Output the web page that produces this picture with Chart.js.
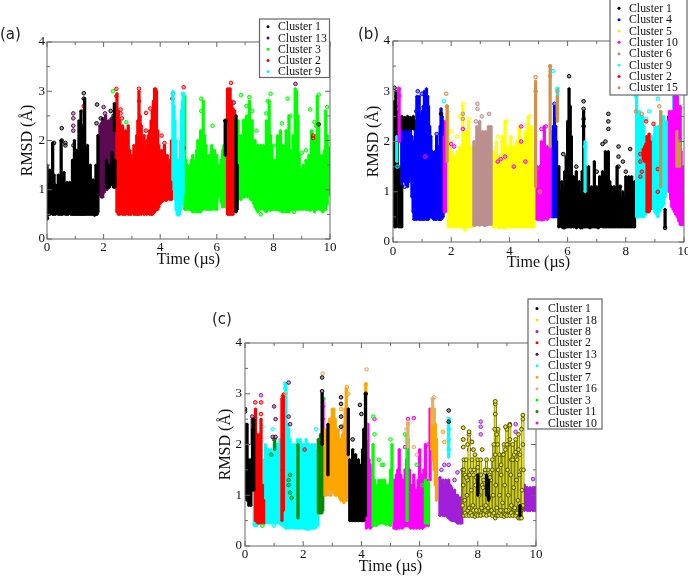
<!DOCTYPE html>
<html>
<head>
<meta charset="utf-8">
<script src="https://cdn.jsdelivr.net/npm/chart.js@4"></script>
<style>
html, body { margin: 0; padding: 0; background: #fff; overflow: hidden; width: 688px; height: 576px; }
canvas { position: absolute; }
</style>
</head>
<body>
<canvas id="panel_a" style="left:0;top:0"></canvas>
<canvas id="panel_b" style="left:345px;top:0"></canvas>
<canvas id="panel_c" style="left:205px;top:290px"></canvas>
<script>
var xTicks = [0, 2, 4, 6, 8, 10];
var yTicks = [0, 1, 2, 3, 4];

// every spike is [time, lowest rmsd, highest rmsd]
// panel (a)
var a1 = [[0,.42,1.5],[.05,.5,1.1],[.1,.5,1.4],[.15,.52,1],[.2,.5,1.95],[.25,.5,1.3],[.3,.5,1.1],[.35,.52,1.05],[.4,.5,1.3],[.45,.5,1.1],[.5,.5,2],[.55,.5,1.2],[.6,.52,1.35],[.65,.5,1.1],[.7,.5,1.15],[.75,.5,1],[.8,.52,1.15],[.85,.5,1.1],[.9,.5,1.6],[.93,.5,1.15],[.97,.5,2],[1.01,.5,1.3],[1.05,.5,1.8],[1.09,.5,1.2],[1.13,.5,2.4],[1.17,.5,1.5],[1.2,.5,2.6],[1.24,.5,1.3],[1.27,.5,2.3],[1.3,.5,1.6],[1.33,.5,2.85],[1.38,.5,1.2],[1.43,.5,1.9],[1.48,.5,1.15],[1.53,.5,1.5],[1.58,.5,1.05],[1.63,.5,1.2],[1.68,.48,1.1],[1.73,.5,1.5],[1.77,.5,1.3],[1.8,.55,2.1],
	[2.1,1.05,1.6],[2.15,1.05,1.3],[2.2,1.05,1.5],[2.25,1.1,1.3],[2.3,1.1,1.75],[2.35,1.05,1.4],[2.4,1.05,1.6],[2.38,2.2,2.75],[6.3,1.7,2.4],[6.68,.55,2.5],[6.72,.6,1.5]];
var a13 = [[1.87,.9,2.3],[1.92,.85,2.35],[1.97,.85,2.45],[2.02,.95,2.4],[2.07,1,2.5],[2.12,1,2.35],[2.17,1.05,2.4],[2.22,1.1,2.4],[2.27,1.2,2.45],[2.32,1.2,2.4],[2.37,1.3,2.45],[2.43,1.1,2.6]];
var a3 = [[4.87,.6,2.9],[4.91,.6,1.6],[4.95,.62,1.5],[5,.6,1.4],[5.05,.6,1.5],[5.1,.58,1.6],[5.15,.55,1.7],[5.2,.58,1.5],[5.25,.55,1.6],[5.29,.58,1.8],[5.33,.55,2],[5.38,.55,1.7],[5.43,.55,2.2],[5.47,.6,2],[5.52,.6,2.8],[5.57,.62,2.1],[5.62,.6,1.9],[5.67,.6,1.6],[5.72,.6,1.7],[5.77,.6,1.6],[5.82,.6,1.9],[5.87,.65,1.6],[5.92,.6,1.8],[5.96,.65,1.6],[6,.6,1.7],[6.05,.85,1.5],[6.1,1,1.5],[6.15,.75,1.6],[6.2,.65,1.8],[6.25,.7,1.9],[6.3,.65,2.3],
	[6.75,.8,2.4],[6.8,.85,1.9],[6.85,.8,2.1],[6.9,.85,1.8],[6.95,.85,2.4],[7,.85,2],[7.05,.9,2.5],[7.1,.85,2.1],[7.15,.85,2.8],[7.2,.8,2.2],[7.25,.8,2.4],[7.3,.72,1.9],[7.35,.65,2],[7.4,.6,1.7],[7.45,.55,1.9],[7.5,.6,1.6],[7.55,.6,1.9],[7.6,.62,1.6],[7.65,.6,1.9],[7.7,.58,1.7],[7.75,.55,2.4],[7.8,.6,2],[7.85,.6,2.8],[7.9,.58,2.1],[7.95,.6,1.9],[8,.6,1.5],[8.05,.6,1.6],[8.1,.6,1.5],[8.15,.6,2.1],[8.2,.58,1.7],[8.25,.6,2.2],[8.3,.55,1.6],[8.35,.55,1.9],[8.4,.58,1.6],[8.45,.55,2.2],[8.5,.55,1.9],[8.55,.55,2.5],[8.6,.6,1.8],[8.65,.6,1.7],[8.7,.62,2.1],[8.77,.6,3.05],[8.82,.6,3],[8.87,.6,2.5],[8.91,.65,1.7],[8.95,.6,1.4],[9,.62,1.35],[9.05,.6,1.5],[9.1,.62,1.4],[9.15,.6,1.6],[9.2,.6,1.5],[9.25,.6,1.7],[9.3,.58,1.6],[9.35,.6,2.2],[9.4,.62,1.7],[9.45,.55,2],[9.5,.6,2.1],[9.55,.6,2.9],[9.6,.62,2.3],[9.65,.6,1.7],[9.7,.58,1.5],[9.75,.55,1.7],[9.8,.6,1.8],[9.85,.6,2.6],[9.9,.7,2.1],[9.95,.9,1.7],[9.99,.9,1.85]];
var a2 = [[2.47,.55,2.95],[2.52,.5,2.6],[2.57,.5,2.4],[2.62,.52,2],[2.67,.5,2.3],[2.72,.5,2],[2.77,.5,2.2],[2.82,.52,2],[2.87,.5,2.3],[2.92,.5,1.8],[2.97,.5,1.7],[3.02,.52,1.6],[3.07,.5,1.9],[3.12,.5,1.7],[3.17,.5,2.1],[3.21,.5,2.4],[3.25,.5,3],[3.29,.52,2.5],[3.33,.5,2.3],[3.38,.52,1.9],[3.43,.5,2.1],[3.48,.52,1.8],[3.53,.5,2],[3.58,.52,2.1],[3.63,.5,2.2],[3.68,.5,2.4],[3.72,.5,2.6],[3.76,.52,2.8],[3.8,.55,3.05],[3.84,.58,3.05],[3.87,.6,3],[3.91,.6,2.2],[3.95,.65,1.9],[4,.72,1.7],[4.05,.75,1.8],[4.1,.78,1.7],[4.15,.8,1.9],[4.2,.78,1.6],[4.25,.8,1.7],[4.3,.82,1.5],[4.35,.8,1.6],[4.4,.8,2],
	[6.38,.5,3.05],[6.43,.5,3.05],[6.47,.5,3.05],[6.52,.5,2.8],[6.57,.5,2.65],[6.63,.55,2.6]];
var a9 = [[4.45,1.2,3],[4.49,1,2.7],[4.52,.8,2.4],[4.56,.6,2],[4.6,.5,1.6],[4.64,.48,1.55],[4.68,.5,1.6],[4.72,.6,2],[4.75,.7,2.6],[4.78,.8,2.8],[4.81,.9,2.95]];
var a1Pts = [[.25,1.95],[.52,2.25],[.52,2],[.65,1.9],[.65,1.95],[1.3,2.96],[1.3,2.85],[1.77,2.73],[2.25,2.6],[2.35,2.5],[0,.42],[1.75,2.35],[1.9,2.45],[6.3,2.4],[9.6,2.33]];
var a13Pts = [[.93,2.55],[.93,2.45],[.93,2.3],[.93,2.2],[.93,1.9],[2,2.68],[2.05,2.55],[1.3,2],[8.78,3.15],[4.43,2.85],[6.6,2.77]];
var a3Pts = [[2.33,3],[2.8,2.37],[2.45,2.65],[6.85,2.92],[7.05,2.7],[7.15,2.88],[7.8,2.8],[7.9,2.95],[8.5,2.85],[8.6,2.5],[9.3,2.63],[9.45,2.38],[9.6,2.93],[9.9,2.68],[5.45,2.85],[5.45,2.6],[5.85,2.3],[9,1.75],[7.3,.95],[7.55,.5],[8.72,.55],[6.95,2.4],[7.25,2.6],[7,2.3],[7.4,2.2],[7.75,2.55],[8.1,1.9],[8.3,2.35],[9.15,1.8],[9.5,2.3]];
var a2Pts = [[1.3,2.7],[1.3,2.6],[2.45,3.05],[2.45,2.9],[2.6,2.63],[2.6,2.55],[2.65,2.45],[3.25,3.05],[3.25,2.8],[3.5,2.56],[3.65,2.65],[4.05,2.1],[4.15,1.95],[4.45,2.95],[4.83,3.08],[4.83,1.85],[6.5,3.17],[9.4,2.1],[9.4,2.05],[3.5,2.2]];
var a9Pts = [[4.45,2.95],[4.8,2.95]];

// panel (b)
var b1 = [[.05,.3,2.8],[.1,.3,3],[.15,1,2.6],[.2,.3,1.5],[.25,.3,1.1],[.3,.3,1.1],[.3,2.25,2.5],[.35,2.25,2.45],[.4,2.25,2.48],[.45,2.27,2.45],[.5,2.25,2.5],[.55,2.25,2.45],[.6,2.25,2.48],[.65,2.27,2.45],[.7,2.25,2.5],
	[5.7,.3,1.5],[5.75,.32,1],[5.8,.3,1.2],[5.85,.28,.95],[5.9,.28,1.4],[5.95,.3,1.7],[6,.3,2.4],[6.05,.3,3.05],[6.09,.3,2.7],[6.13,.3,2.1],[6.2,.3,1.3],[6.25,.32,1],[6.3,.28,1.4],[6.35,.3,1],[6.4,.3,1.2],[6.45,.28,.95],[6.5,.28,1.4],[6.55,1,2.6],[6.58,.3,1.2],[6.62,.3,1.5],[6.67,.3,1],[6.72,.3,1.5],[6.77,.28,.95],[6.82,.3,1.1],[6.87,.3,1],[6.92,.3,1.6],[6.96,.3,1],[7,.3,1.1],[7.05,.28,.95],[7.1,.3,1.3],[7.15,.32,1],[7.2,.3,1.4],[7.25,.3,1.1],[7.3,.3,1.8],[7.35,.3,1.5],[7.4,.3,1.8],[7.45,.3,1.2],[7.5,.3,1.1],[7.55,.3,.95],[7.6,.3,1.1],[7.65,.3,1],[7.7,.3,1.5],[7.75,.3,1],[7.8,.3,1.1],[7.85,.3,.9],[7.9,.3,1],[7.95,.3,.9],[8,.3,1.3],[8.05,.3,1.1],[8.1,.3,1.3],[8.15,.3,1.05],[8.2,.3,1.3],[8.25,.3,1],[8.3,.3,1.2],
	[9.35,.3,.65],[9.48,1.9,2.5],[9.55,1.9,2.3]];
var b4 = [[.3,1.1,2.3],[.35,1.25,2.25],[.4,1.2,2.25],[.45,1.15,2.25],[.5,1.1,2.3],[.55,1.2,2.25],[.6,1.3,2.25],[.65,.9,2.1],[.69,.6,2],[.72,.45,1.9],[.77,.45,2.4],[.82,.45,2.9],[.86,.48,2.8],[.9,.45,2.9],[.95,.45,2.5],[1,.45,2.6],[1.04,.45,2.7],[1.08,.45,3],[1.12,.48,3],[1.15,.45,3.05],[1.19,.45,2.9],[1.22,.45,2.7],[1.26,.5,2.3],[1.3,.5,2.1],[1.35,.48,1.8],[1.4,.45,1.7],[1.45,.45,1.8],[1.5,.45,2.1],[1.54,.5,1.8],[1.58,.45,1.9],[1.62,.45,2.3],[1.65,.45,2.65],[1.69,.48,2.5],[1.72,.5,2.4],
	[5.47,.5,2.2],[5.51,.5,2.3],[5.55,.5,2.7],[5.59,.55,2.3],[5.62,.5,2]];
var b5 = [[1.9,.3,2.6],[1.95,.3,2],[2,.3,1.8],[2.05,.32,1.5],[2.1,.3,1.7],[2.15,.3,1.5],[2.2,.3,1.8],[2.25,.3,1.6],[2.3,.3,1.9],[2.35,.32,1.8],[2.4,.3,2.7],[2.45,.25,1.9],[2.5,.3,2.2],[2.55,.3,1.9],[2.6,.3,2.4],[2.65,.3,1.7],[2.7,.3,1.9],
	[3.45,.3,1.8],[3.5,.3,1.6],[3.55,.3,2],[3.6,.3,1.7],[3.65,.28,1.7],[3.7,.3,1.6],[3.75,.3,2.1],[3.8,.28,1.7],[3.85,.28,2.4],[3.9,.3,1.8],[3.95,.3,1.9],[4,.3,1.6],[4.05,.3,2.1],[4.1,.3,1.7],[4.15,.3,1.9],[4.2,.3,1.6],[4.25,.3,2],[4.3,.3,1.7],[4.35,.3,2.3],[4.4,.3,1.7],[4.45,.3,2],[4.5,.3,1.6],[4.55,.3,2.2],[4.6,.3,1.7],[4.65,.3,2.5],[4.7,.3,1.8],[4.75,.3,2.3],[4.8,.3,1.6],[4.85,.3,1.6]];
var b10 = [[.21,2,3.05],[1.76,.6,2.1],[1.8,.6,2.4],[4.95,.45,1.5],[5,.45,1.4],[5.05,.45,1.5],[5.1,.45,2],[5.15,.45,1.7],[5.2,.45,2.3],[5.25,.5,1.8],[5.3,.45,1.9],[5.35,.5,1.7],[5.4,.5,1.9],
	[9.5,1,2.6],[9.54,.85,2.3],[9.58,.7,2.6],[9.63,.65,2.4],[9.67,.6,2.9],[9.72,.55,2.5],[9.77,.5,2.9],[9.82,.42,2.5],[9.87,.35,2.7],[9.9,.35,1.8],[9.93,.35,1.2],[9.96,.35,1.4],[9.99,.35,1.5]];
var b6 = [[2.78,.33,2],[2.83,.33,1.9],[2.88,.35,2.3],[2.93,.35,2.1],[2.98,.33,2.4],[3.03,.35,2],[3.08,.35,2.2],[3.13,.33,2],[3.18,.33,2.2],[3.23,.35,2],[3.28,.35,2.3],[3.33,.35,2],[3.37,.35,2.3]];
var b9 = [[.13,1.6,2.1],[5.65,2.5,3.05],[6.6,1,2],
	[8.37,.5,2.9],[8.42,.5,2.5],[8.47,.5,2.6],[8.52,.52,2.4],[8.57,.5,2.5],[8.62,.5,2.3],[8.68,.55,2.1],[8.9,.7,2.1],[8.95,.65,2],[9,.6,2.3],[9.05,.55,1.9],[9.1,.5,2.3],[9.15,.6,2.2],[9.2,.7,2.6],[9.25,.7,2.2],[9.3,.75,2.5],[9.35,.9,2.2],[9.4,1,2.4],[9.65,2,2.9],[9.72,2.2,2.9]];
var b2 = [[8.6,1.65,1.85],[8.65,1.6,1.9],[8.69,1.6,1.95],[8.73,.6,2.1],[8.77,.6,2.1],[8.8,.6,2.15],[8.84,.65,2]];
var b15 = [[1.86,1.6,2.7],[4.9,1.1,3.2],[5.4,1.9,3.5],[5.65,2.4,2.9],[9.2,1.1,2.6],[9.75,1.5,2.2],[9.85,1.5,2]];
var b1Pts = [[.05,3.07],[.12,2.9],[.1,2.7],[1.65,2.55],[6.05,3.3],[6.55,2.8],[6.55,2.65],[6.55,2.45],[6.55,2.3],[7.4,2.55],[7.4,2.4],[7.4,2.25],[7.3,2],[7.2,1.95],[7.75,1.9],[7.75,1.7],[7.75,1.5],[7.9,1.6],[8.15,1.85],[8,1.4],[5.85,1.75],[6.1,1.65],[6.3,1.5],[7,1.4],[7.8,1.1],[9.35,.28]];
var b4Pts = [[.8,2.6],[.85,3],[1,2.95],[1.5,2.15],[1.6,1.3],[1.4,1.6],[.5,1.2],[.4,1.1],[5.55,2.75]];
var b5Pts = [[2.4,2.75],[2.3,2.5],[2.6,2.45],[3.9,2.4],[4.7,2.5],[4.6,2.3],[2.5,.25],[3.75,.3],[2,2.2],[2.2,2.1],[3.6,2.1]];
var b10Pts = [[.2,3.05],[.22,2.9],[1.1,1.7],[2.4,2.25],[2,1.95],[2.1,1.9],[3.6,1.6],[3.7,1.65],[3.85,1.7],[4.15,1.5],[4.4,2.3],[4.4,2],[4.55,1.6],[5.1,.45],[5.25,2.3],[5.1,2.25],[9.7,2.95]];
var b6Pts = [[2.9,2.75],[2.9,2.65],[3.05,2.5],[3.3,2.55],[2.4,2.55],[2.4,2.45],[2.85,2.4]];
var b9Pts = [[.15,1.5],[1.75,2.8],[5.65,3.05],[5.5,3.4],[8.35,2.9],[8.7,2.45],[8.8,2.6],[9.1,2.85],[9.75,3],[6.6,1.9]];
var b2Pts = [[8.7,2.4],[8.95,2.35],[8.5,1.75],[8.5,1.6],[8.55,1.4],[8.5,1.3],[9.1,1],[9.1,1.45]];
var b15Pts = [[1.83,2.95],[4.9,3.28],[5.4,3.5],[5.65,3],[8.35,2.6],[9.15,2.7],[5.05,1],[1.85,2.7],[8.55,2.55],[4.9,3],[5.4,3.3]];

// panel (c)
var c1 = [[.02,.95,2.4],[.07,.9,2.4],[.13,.8,1.7],[.17,.82,1.5],[.2,.8,1.7],[.26,1.1,2.3],[.3,1.1,2.5],[2.65,2,3],[2.85,1.4,2.4],[3.55,1.8,2.7],
	[3.6,.5,1.7],[3.65,.5,1.6],[3.7,.5,1.9],[3.75,.5,1.6],[3.8,.5,1.8],[3.85,.5,1.5],[3.9,.5,1.7],[3.95,.5,1.5],[4,.5,1.6],[4.04,.5,1.9],[4.08,.5,2.3],[4.14,.6,3],[8,1,1.4],[8.3,1,1.4],[8.37,.9,1.3],[9.45,.6,.8]];
var c18 = [[7.48,.8,1.5],[7.52,.6,1.7],[7.56,.65,1.4],[7.6,.6,1.7],[7.65,.7,1.3],[7.7,.6,2.2],[7.75,.65,1.5],[7.8,.6,1.7],[7.85,.7,1.4],[7.9,.58,1.8],[7.95,.62,1.35],[8,.6,1.7],[8.05,.7,1.4],[8.1,.6,1.7],[8.15,.72,1.2],[8.2,.62,1.3],[8.25,.7,1.45],[8.3,.6,1.7],[8.35,.75,1.5],[8.4,.62,1.4],[8.45,.7,1.3],[8.5,.6,1.7],[8.55,.65,2],[8.6,.55,2.8],[8.65,.6,2.2],[8.7,.6,2.3],[8.75,.65,1.8],[8.8,.6,1.6],[8.85,.7,1.8],[8.9,.58,2],[8.95,.62,1.9],[9,.6,2.3],[9.05,.7,2],[9.1,.6,2.4],[9.15,.65,1.7],[9.2,.6,2],[9.25,.72,1.8],[9.3,.6,2.1],[9.35,.65,1.7],[9.4,.55,2.2],[9.45,.55,1.8],[9.5,.55,1.5],[9.55,.8,2.5]];
var c8 = [[6.7,.6,1.35],[6.75,.62,1.25],[6.8,.6,1.3],[6.85,.6,1.2],[6.9,.6,1.3],[6.95,.58,1.25],[7,.55,1.3],[7.05,.52,1.2],[7.1,.5,1.15],[7.15,.5,1.05],[7.2,.5,1.1],[7.25,.48,1],[7.3,.45,1],[7.35,.45,.95],[7.4,.45,.95],[7.45,.45,.9],
	[9.6,.7,1.2],[9.65,.72,1.15],[9.7,.7,1.15],[9.75,.7,1.12],[9.8,.7,1.15],[9.85,.72,1.12],[9.9,.7,1.15],[9.95,.7,1.15],[9.99,.7,1.15]];
var c2 = [[.36,.5,2.7],[.41,.48,2.2],[.45,.45,2.1],[.5,.45,2.2],[.55,.45,2.5],[.6,.45,1.2],[.64,.45,.9],[1.27,.5,2.9],[1.32,.7,3]];
var c13 = [[.25,2,2.5]];
var c9 = [[.32,.4,1.7],[.36,.4,1.6],[.4,.4,1.7],[.66,.45,1.7],[.7,.45,2],[.75,.48,1.8],[.8,.45,1.9],[.85,.48,1.8],[.9,.45,1.9],[.95,.5,1.8],[1,.45,2],[1.05,.45,1.9],[1.1,.45,2],[1.15,.45,2],[1.2,.5,2.1],[1.25,.42,2],[1.3,.4,2.2],[1.35,.38,2.8],[1.4,.35,3.2],[1.45,.35,2.4],[1.5,.35,2.3],[1.55,.36,2.1],[1.6,.38,2],[1.65,.36,1.9],[1.7,.35,2],[1.75,.35,1.9],[1.8,.35,2.1],[1.85,.35,2],[1.9,.35,2.1],[1.95,.36,1.9],[2,.35,2],[2.05,.35,2],[2.1,.33,2.1],[2.15,.33,2],[2.2,.33,2],[2.25,.36,1.9],[2.3,.35,2],[2.35,.35,1.9],[2.4,.35,2],[2.45,.38,1.8],[2.5,.4,1.9],[7,1.75,2.5]];
var c7 = [[2.75,1,2.3],[2.8,1,2.2],[2.9,1,2.5],[2.95,1,2.5],[3,1.1,2.7],[3.05,1.05,2.7],[3.1,1,2.5],[3.15,1,2.3],[3.2,1,2.3],[3.25,.95,2.1],[3.3,.9,2.1],[3.35,.9,2.2],[3.4,.85,2.4],[3.44,.9,2.7],[3.48,.9,3.1],[3.54,.9,2.7],[4.15,2.1,3.2],[6.42,1.9,2.7],[6.46,1.7,2.7],[6.5,1.5,2.7],[6.54,1.2,2.4],[6.58,.9,2.1]];
var c16 = [[6.45,2.4,2.9],[5.6,1.95,2.4]];
var c3 = [[3.05,1.55,2.2],[3.1,1.6,2.15],[3.15,1.55,2.15],[3.2,1.6,2.15],[3.25,1.6,2.1],[4.4,.4,2],[4.45,.42,1.3],[4.5,.4,1.1],[4.55,.42,1.2],[4.6,.45,1.3],[4.65,.45,1.2],[4.7,.45,1.3],[4.75,.45,1.2],[4.8,.45,1.3],[4.85,.42,1.1],[4.9,.45,1.2],[4.95,.42,1.2],[5,.4,1.5],[5.05,.5,2],[5.57,.5,2.2],[6.2,.45,1.3],[6.25,.45,1.25],[6.3,.45,1.25]];
var c11 = [[1.82,.55,2],[2.52,.65,2.1],[2.56,.65,2],[2.6,.65,2.2],[2.64,.65,2.1],[2.67,.7,2.1],[1.02,1.9,2.1]];
var c10 = [[2.68,2,2.9],[4.17,.35,1.5],[4.22,.4,2.4],[4.26,.38,1.7],[4.3,.35,1.6],[4.34,.38,1.5],[4.38,.4,1.4],[5.12,.35,1.3],[5.16,.36,1.2],[5.2,.35,1.4],[5.25,.38,1.5],[5.3,.35,1.9],[5.35,.38,1.4],[5.4,.35,1.3],[5.45,.38,1.3],[5.5,.4,1.5],[5.55,.4,1.7],[5.6,.4,2.1],[5.65,.38,1.5],[5.7,.35,1.1],[5.75,.38,1.2],[5.8,.35,1.4],[5.85,.38,1.1],[5.9,.35,1.1],[5.95,.38,1.3],[6,.35,1.9],[6.05,.38,1.4],[6.1,.35,1.3],[6.15,.38,1.5],[6.2,.4,2],[6.25,.42,1.3],[6.3,.4,1],[6.36,1.3,2.7]];
var c1Pts = [[0,2.7],[0,2.65],[2.65,3.32],[2.65,3.05],[3.3,2.93],[3.3,2.8],[3.3,2.55],[3.3,2.35],[3.95,2.78],[4,2.6],[4.15,3],[3.7,2.1],[7,2.67],[7,2.45]];
var c18Pts = [[7.5,2.33],[7.5,2.1],[7.5,1.95],[7.7,2.25],[7.65,2],[7.8,2.05],[7.85,1.9],[8.15,1.9],[8.6,2.85],[8.6,2.6],[8.95,2.35],[9.1,2.38],[9.55,2.58],[9.5,2.3],
	[7.5,1.2],[7.52,1.5],[7.55,.9],[7.6,1.35],[7.63,1],[7.7,.75],[7.72,1.4],[7.78,1.1],[7.83,.8],[7.87,1.5],[7.92,1.2],[7.95,.7],[8,1.55],[8.05,1],[8.1,1.4],[8.13,.75],[8.18,1.15],[8.25,1.5],[8.28,.8],[8.33,1.25],[8.38,.95],[8.42,1.35],[8.47,.7],[8.5,1.5],[8.53,1],[8.58,2.3],[8.6,1.8],[8.62,1.2],[8.65,.75],[8.68,2],[8.7,1.5],[8.75,1],[8.78,.7],[8.8,1.4],[8.85,.85],[8.88,1.8],[8.92,1.2],[8.97,.7],[9,2],[9.02,1.5],[9.05,1],[9.1,2.1],[9.13,1.4],[9.15,.8],[9.2,1.7],[9.23,1.15],[9.27,.75],[9.3,1.85],[9.33,1.3],[9.38,.9],[9.4,1.9],[9.43,1.4],[9.48,.7],[9.52,1.1],[9.55,2],[9.57,1.5]];
var c8Pts = [[.55,2.97],[8.1,2.45],[8.1,2.35],[8.1,2.2],[7.7,2.1],[7.7,1.9],[9.3,2.4],[9.3,2.25],[9.05,2.35],[7.3,1.45],[7.2,1.3],[7,1.6],[9.9,1.32],[6.85,1.6],[6.75,1.5]];
var c2Pts = [[.35,2.83],[.55,2.83],[.55,2.6],[2.05,1.9],[1.3,2.95]];
var c13Pts = [[.25,2.55],[1,2.75],[1.05,2.5],[1.5,3.22],[1.5,2.55],[1.55,2.4],[1.05,2.15],[.95,2.15]];
var c9Pts = [[1.38,3.2],[1.38,3.1],[.95,2.3],[.6,2.35],[.3,2.35],[7,2.5],[7,2.3],[7,2.1],[7,1.9],[2.45,2.3],[1,.4]];
var c7Pts = [[3.5,3.13],[3.55,3],[3.3,2.7],[4.15,3.18],[6.5,2.4],[6.8,2.25],[6.85,2.05],[5.6,2.4]];
var c16Pts = [[2.67,3.4],[4.18,3.48],[1.4,3],[6.5,2.93],[6.45,2.9],[5.6,2.45],[5.55,2.3],[5.8,1.95],[5.9,1.8],[2.9,1.05],[3.35,2.3]];
var c3Pts = [[2.7,2.9],[4.4,2.55],[4.45,2.2],[4.6,1.7],[4.7,1.6],[4.75,1.6],[5,2.1],[5.5,2.2],[5.9,1.6],[6.1,1.2],[.6,.4]];
var c11Pts = [[1.5,1.3],[1.5,1.2],[1.55,1.05],[1.6,.95],[1.55,1.4],[1,2.1],[.9,1.8],[1.3,1.5]];
var c10Pts = [[2.68,2.75],[2.68,2.5],[4.45,2.5],[5.6,2.5],[5.8,2.52],[5.5,1.95],[6.05,.4],[5.2,.35],[6.3,2]];

var aLabels = ['Cluster 1', 'Cluster 13', 'Cluster 3', 'Cluster 2', 'Cluster 9'];
var aColors = ['#000000', '#5c0a52', '#00ff00', '#ff0000', '#00ffff'];
var bLabels = ['Cluster 1', 'Cluster 4', 'Cluster 5', 'Cluster 10', 'Cluster 6', 'Cluster 9', 'Cluster 2', 'Cluster 15'];
var bColors = ['#000000', '#0000ff', '#ffff00', '#ff00ff', '#bc8f8f', '#00ffff', '#ff0000', '#d2904f'];
var cLabels = ['Cluster 1', 'Cluster 18', 'Cluster 8', 'Cluster 2', 'Cluster 13', 'Cluster 9', 'Cluster 7', 'Cluster 16', 'Cluster 3', 'Cluster 11', 'Cluster 10'];
var cColors = ['#000000', '#e6e61e', '#a01fd8', '#ff0000', '#5c0a52', '#00ffff', '#ffa500', '#e2b06c', '#00ff00', '#008b00', '#ff00ff'];

function spikeData(list) {
	return list.map(function(s) { return { x: s[0], y: [s[1], s[2]] }; });
}

function pointData(list) {
	return list.map(function(p) { return { x: p[0], y: p[1] }; });
}

// round off the spike ends
function endData(list) {
	var out = [];
	list.forEach(function(s) {
		out.push({ x: s[0], y: s[1] });
		out.push({ x: s[0], y: s[2] });
	});
	return out;
}

// inward ticks on all four sides, frame, panel letter and legend box
var framePlugin = {
	id: 'frame',
	afterDraw: function(chart, args, opts) {
		var ctx = chart.ctx, area = chart.chartArea;
		var sx = chart.scales.x, sy = chart.scales.y;
		ctx.save();
		ctx.strokeStyle = '#666';
		ctx.lineWidth = 1;
		ctx.strokeRect(area.left, area.top, area.right - area.left, area.bottom - area.top);
		ctx.beginPath();
		for (var t = 0; t <= 10; t++) {
			var len = t % 2 == 0 ? 5 : 3;
			var px = sx.getPixelForValue(t);
			ctx.moveTo(px, area.bottom); ctx.lineTo(px, area.bottom - len);
			ctx.moveTo(px, area.top); ctx.lineTo(px, area.top + len);
		}
		for (var r = 0; r <= 8; r++) {
			var len2 = r % 2 == 0 ? 5 : 3;
			var py = sy.getPixelForValue(r / 2);
			ctx.moveTo(area.left, py); ctx.lineTo(area.left + len2, py);
			ctx.moveTo(area.right, py); ctx.lineTo(area.right - len2, py);
		}
		ctx.stroke();

		ctx.fillStyle = '#222';
		ctx.font = '15px "DejaVu Sans"';
		ctx.textBaseline = 'middle';
		ctx.textAlign = 'left';
		ctx.fillText(opts.letter, opts.letterX, opts.letterY);

		var b = opts.box;
		ctx.fillStyle = '#fff';
		ctx.fillRect(b.x, b.y, b.w, b.h);
		ctx.strokeStyle = '#666';
		ctx.lineWidth = 1.2;
		ctx.strokeRect(b.x, b.y, b.w, b.h);
		ctx.font = '11.8px "Liberation Serif"';
		opts.labels.forEach(function(label, i) {
			var y = b.first + i * b.step;
			ctx.beginPath();
			ctx.arc(b.mark, y, 1.5, 0, Math.PI * 2);
			ctx.fillStyle = opts.colors[i] == '#ffff00' ? '#f0f000' : opts.colors[i];
			ctx.fill();
			ctx.fillStyle = '#111';
			ctx.fillText(label, b.text, y + 0.5);
		});
		ctx.restore();
	}
};

function drawPanel(id, p) {
	var datasets = [];
	p.layers.forEach(function(l, i) {
		var color = p.colors[l.c];
		datasets.push({
			type: 'bar',
			data: spikeData(l.s),
			backgroundColor: color,
			borderColor: l.edge || color,
			borderWidth: l.edge ? 0.7 : 0,
			barThickness: 2.6,
			grouped: false,
			order: -3 * i
		});
		datasets.push({
			type: 'scatter',
			data: endData(l.s),
			pointRadius: l.r || 1.1,
			pointBorderWidth: 0.9,
			pointBorderColor: l.edge || color,
			pointBackgroundColor: color,
			order: -3 * i - 1
		});
		// stray frames are small rings
		datasets.push({
			type: 'scatter',
			data: pointData(l.p),
			pointRadius: l.r || 1.8,
			pointBorderWidth: 1,
			pointBorderColor: l.edge || color,
			pointBackgroundColor: l.edge ? color : color + '66',
			order: -3 * i - 2
		});
	});

	new Chart(document.getElementById(id), {
		type: 'bar',
		data: { datasets: datasets },
		plugins: [framePlugin],
		options: {
			responsive: false,
			animation: false,
			devicePixelRatio: 1,
			layout: { padding: { left: 0, top: p.top, right: p.w - p.right, bottom: 0 } },
			plugins: {
				legend: { display: false },
				tooltip: { enabled: false },
				frame: { letter: p.letter, letterX: p.letterX, letterY: p.letterY, box: p.box, labels: p.labels, colors: p.colors }
			},
			scales: {
				x: {
					type: 'linear',
					min: 0,
					max: 10,
					offset: false,
					grid: { display: false, drawTicks: false },
					border: { display: false },
					afterFit: function(s) { s.height = p.h - p.bottom; },
					afterBuildTicks: function(s) { s.ticks = xTicks.map(function(v) { return { value: v }; }); },
					ticks: { color: '#111', maxRotation: 0, autoSkip: false, padding: p.xPad, font: { family: 'Liberation Serif', size: 13 } },
					title: { display: true, text: 'Time (µs)', color: '#111', padding: { top: 0, bottom: p.xTitle }, font: { family: 'Liberation Serif', size: 16, lineHeight: 1.2 } }
				},
				y: {
					min: 0,
					max: 4,
					grid: { display: false, drawTicks: false },
					border: { display: false },
					afterFit: function(s) { s.width = p.left; },
					afterBuildTicks: function(s) { s.ticks = yTicks.map(function(v) { return { value: v }; }); },
					ticks: { color: '#111', autoSkip: false, padding: p.yPad, font: { family: 'Liberation Serif', size: 13 } },
					title: { display: true, text: 'RMSD (Å)', color: '#111', padding: { top: p.yTitle, bottom: 0 }, font: { family: 'Liberation Serif', size: 16, lineHeight: 1.2 } }
				}
			}
		}
	});
}

function sizeCanvas(id, w, h) {
	var c = document.getElementById(id);
	c.width = w;
	c.height = h;
}

sizeCanvas('panel_a', 345, 275);
sizeCanvas('panel_b', 360, 275);
sizeCanvas('panel_c', 420, 286);

drawPanel('panel_a', {
	w: 345, h: 275, left: 47, right: 330, top: 42, bottom: 239,
	xPad: 1, yPad: 2, xTitle: 6, yTitle: 18,
	letter: '(a)', letterX: 0, letterY: 35,
	box: { x: 259.5, y: 19, w: 70, h: 58.5, first: 26.8, step: 11.2, mark: 268, text: 278 },
	labels: aLabels, colors: aColors,
	layers: [
		{ c: 1, s: a13, p: a13Pts },
		{ c: 2, s: a3, p: a3Pts },
		{ c: 3, s: a2, p: a2Pts },
		{ c: 4, s: a9, p: a9Pts },
		{ c: 0, s: a1, p: a1Pts }
	]
});

drawPanel('panel_b', {
	w: 360, h: 275, left: 48, right: 339, top: 41, bottom: 242,
	xPad: 2, yPad: 3, xTitle: 3, yTitle: 19,
	letter: '(b)', letterX: 13, letterY: 35,
	box: { x: 265, y: -1, w: 77, h: 96, first: 8.3, step: 11.35, mark: 274, text: 284 },
	labels: bLabels, colors: bColors,
	layers: [
		{ c: 2, s: b5, p: b5Pts },
		{ c: 4, s: b6, p: b6Pts },
		{ c: 1, s: b4, p: b4Pts },
		{ c: 0, s: b1, p: b1Pts },
		{ c: 5, s: b9, p: b9Pts },
		{ c: 3, s: b10, p: b10Pts },
		{ c: 6, s: b2, p: b2Pts },
		{ c: 7, s: b15, p: b15Pts }
	]
});

drawPanel('panel_c', {
	w: 420, h: 286, left: 40, right: 331, top: 53, bottom: 256,
	xPad: 1, yPad: 3, xTitle: 0, yTitle: 11,
	letter: '(c)', letterX: 7, letterY: 30,
	box: { x: 323, y: 9, w: 74, h: 130, first: 18.5, step: 11.45, mark: 332, text: 343 },
	labels: cLabels, colors: cColors,
	layers: [
		{ c: 5, s: c9, p: c9Pts },
		{ c: 9, s: c11, p: c11Pts },
		{ c: 3, s: c2, p: c2Pts },
		{ c: 4, s: c13, p: c13Pts },
		{ c: 10, s: c10, p: c10Pts },
		{ c: 8, s: c3, p: c3Pts },
		{ c: 6, s: c7, p: c7Pts },
		{ c: 7, s: c16, p: c16Pts },
		{ c: 2, s: c8, p: c8Pts },
		{ c: 1, s: c18, p: c18Pts, edge: '#4a4a00', r: 1.9 },
		{ c: 0, s: c1, p: c1Pts }
	]
});
</script>
</body>
</html>
